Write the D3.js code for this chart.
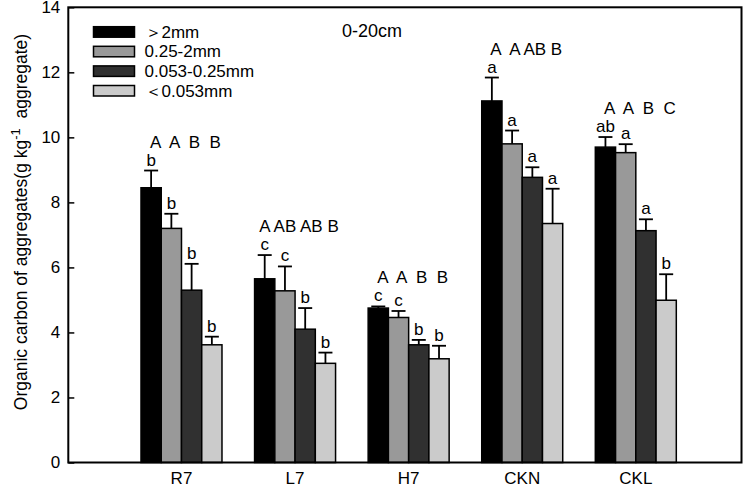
<!DOCTYPE html>
<html>
<head>
<meta charset="utf-8">
<script src="https://cdn.jsdelivr.net/npm/d3@7"></script>
<style>
    body { margin: 0; background: #fff; }
    svg { display: block; font-family: Arial, "Liberation Sans", sans-serif; }
    .pre { white-space: pre; }
</style>
</head>
<body>
<svg id="chart" width="750" height="488"></svg>
<script>
// Data lest av figuren
var categories = ["R7", "L7", "H7", "CKN", "CKL"];
var seriesNames = ["＞2mm", "0.25-2mm", "0.053-0.25mm", "＜0.053mm"];
var seriesColors = ["#000000", "#999999", "#303030", "#cbcbcb"];

var valuesOver2 = [8.45, 5.65, 4.75, 11.12, 9.70];
var errorsOver2 = [0.53, 0.73, 0.05, 0.72, 0.31];
var values025to2 = [7.20, 5.28, 4.46, 9.80, 9.53];
var errors025to2 = [0.45, 0.75, 0.20, 0.41, 0.26];
var values0053to025 = [5.30, 4.10, 3.62, 8.77, 7.13];
var errors0053to025 = [0.81, 0.65, 0.15, 0.31, 0.35];
var valuesUnder0053 = [3.62, 3.05, 3.19, 7.35, 4.99];
var errorsUnder0053 = [0.25, 0.33, 0.40, 1.07, 0.80];

// Bokstaver for signifikans
var lowerLetters = [
    ["b", "b", "b", "b"],
    ["c", "c", "b", "b"],
    ["c", "c", "b", "b"],
    ["a", "a", "a", "a"],
    ["ab", "a", "a", "b"]
];
var upperLetters = ["A  A  B  B", "A AB AB B", "A  A  B  B", "A  A AB B", "A  A  B  C"];

var yTicks = [0, 2, 4, 6, 8, 10, 12, 14];

var allValues = [valuesOver2, values025to2, values0053to025, valuesUnder0053];
var allErrors = [errorsOver2, errors025to2, errors0053to025, errorsUnder0053];

var plot = { left: 68.3, right: 741.5, top: 7.3, bottom: 462.5 };
var fontSize = "17px";

var svg = d3.select("#chart");

var y = d3.scaleLinear().domain([0, 14]).range([plot.bottom, plot.top]);
var x0 = d3.scaleBand().domain(categories)
    .range([plot.left + 56.4, plot.right - 48.9])
    .paddingInner(0.287)
    .paddingOuter(0.1435);
var x1 = d3.scaleBand().domain(d3.range(4)).range([0, x0.bandwidth()]);

// Flat tabell for stolpene
var bars = [];
categories.forEach(function (c, i) {
    for (var s = 0; s < 4; s++) {
        bars.push({ cat: c, ci: i, s: s, value: allValues[s][i], err: allErrors[s][i], letter: lowerLetters[i][s] });
    }
});

// Feilfelt (kun opp)
svg.append("g").selectAll("g")
    .data(bars)
    .enter().append("g")
    .each(function (d) {
        var cx = x0(d.cat) + x1(d.s) + x1.bandwidth() / 2;
        var g = d3.select(this);
        g.append("line")
            .attr("x1", cx).attr("x2", cx)
            .attr("y1", y(d.value)).attr("y2", y(d.value + d.err))
            .attr("stroke", "#000").attr("stroke-width", 1.8);
        g.append("line")
            .attr("x1", cx - 7).attr("x2", cx + 7)
            .attr("y1", y(d.value + d.err)).attr("y2", y(d.value + d.err))
            .attr("stroke", "#000").attr("stroke-width", 1.8);
    });

svg.append("g").selectAll("rect")
    .data(bars)
    .enter().append("rect")
    .attr("x", function (d) { return x0(d.cat) + x1(d.s); })
    .attr("width", x1.bandwidth())
    .attr("y", function (d) { return y(d.value); })
    .attr("height", function (d) { return y(0) - y(d.value); })
    .attr("fill", function (d) { return seriesColors[d.s]; })
    .attr("stroke", "#000")
    .attr("stroke-width", 1.5);

// Små bokstaver over feilfeltene
svg.append("g").selectAll("text")
    .data(bars)
    .enter().append("text")
    .attr("x", function (d) { return x0(d.cat) + x1(d.s) + x1.bandwidth() / 2; })
    .attr("y", function (d) { return y(d.value + d.err) - 5; })
    .attr("text-anchor", "middle")
    .style("font-size", fontSize)
    .text(function (d) { return d.letter; });

// Store bokstaver over hver gruppe
svg.append("g").selectAll("text")
    .data(categories)
    .enter().append("text")
    .attr("class", "pre")
    .attr("x", function (d) { return x0(d) + x0.bandwidth() / 2 + 4; })
    .attr("y", function (d, i) {
        var top = d3.max(d3.range(4), function (s) { return allValues[s][i] + allErrors[s][i]; });
        return y(top) - 23;
    })
    .attr("text-anchor", "middle")
    .style("font-size", fontSize)
    .text(function (d, i) { return upperLetters[i]; });

// Ramme
svg.append("rect")
    .attr("x", plot.left).attr("y", plot.top)
    .attr("width", plot.right - plot.left).attr("height", plot.bottom - plot.top)
    .attr("fill", "none").attr("stroke", "#000").attr("stroke-width", 2);

var yAxis = svg.append("g")
    .attr("transform", "translate(" + plot.left + ",0)")
    .call(d3.axisLeft(y).tickValues(yTicks).tickSizeInner(-6).tickSizeOuter(0).tickPadding(8));
yAxis.select(".domain").remove();
yAxis.selectAll("line").attr("stroke-width", 1.5);
yAxis.selectAll("text").style("font-size", "17px").style("font-family", "Arial, 'Liberation Sans', sans-serif").attr("fill", "#000");

// Kategorinavn
svg.append("g").selectAll("text")
    .data(categories)
    .enter().append("text")
    .attr("x", function (d) { return x0(d) + x0.bandwidth() / 2; })
    .attr("y", 484)
    .attr("text-anchor", "middle")
    .style("font-size", fontSize)
    .text(function (d) { return d; });

// Y-aksetittel
var yTitle = svg.append("text")
    .attr("transform", "translate(27," + 222 + ") rotate(-90)")
    .attr("text-anchor", "middle")
    .style("font-size", "17.5px");
yTitle.append("tspan").text("Organic carbon of aggregates(g kg");
yTitle.append("tspan").attr("dy", -7).style("font-size", "13px").text("-1");
yTitle.append("tspan").attr("dy", 7).attr("class", "pre").text("  aggregate)");

// Tittel
svg.append("text")
    .attr("x", 342).attr("y", 37)
    .style("font-size", "18px")
    .text("0-20cm");

// Legende
var legend = svg.append("g").selectAll("g")
    .data(seriesNames)
    .enter().append("g")
    .attr("transform", function (d, i) { return "translate(93.5," + (26.7 + i * 19.6) + ")"; });
legend.append("rect")
    .attr("width", 41).attr("height", 10.5)
    .attr("fill", function (d, i) { return seriesColors[i]; })
    .attr("stroke", "#000").attr("stroke-width", 1.5);
legend.append("text")
    .attr("x", 51).attr("y", 11)
    .style("font-size", fontSize)
    .text(function (d) { return d; });
</script>
</body>
</html>
